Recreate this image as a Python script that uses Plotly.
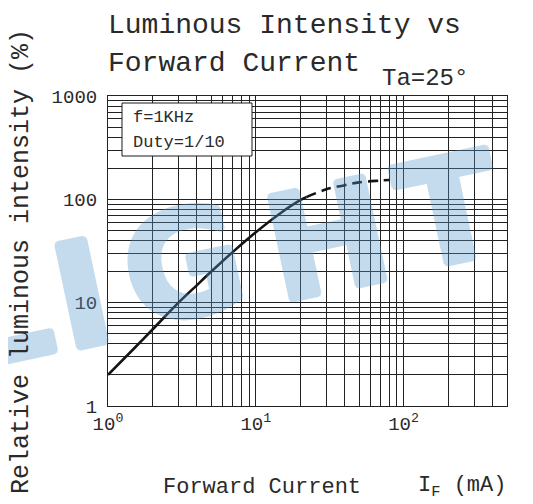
import plotly.graph_objects as go

# ---- data ----
current_solid = [1, 1.5, 2, 3, 4, 5, 7, 10, 15, 20, 22]
intensity_solid = [2, 3.6, 5.5, 10, 14.8, 20, 31, 48, 75, 98, 105]
current_dashed = [22, 30, 40, 50, 70, 80]
intensity_dashed = [105, 125, 137, 146, 152, 154]

x_tickvals = [1, 2, 3, 4, 5, 6, 7, 8, 9, 10, 20, 30, 40, 50, 60, 70, 80, 90, 100, 200, 300, 400]
x_ticktext = ["10<sup>0</sup>", "", "", "", "", "", "", "", "", "10<sup>1</sup>",
              "", "", "", "", "", "", "", "", "10<sup>2</sup>", "", "", ""]
y_tickvals = [1, 2, 3, 4, 5, 6, 7, 8, 9, 10, 20, 30, 40, 50, 60, 70, 80, 90,
              100, 200, 300, 400, 500, 600, 700, 800, 900, 1000]
y_ticktext = ["1", "", "", "", "", "", "", "", "", "10", "", "", "", "", "", "", "", "",
              "100", "", "", "", "", "", "", "", "", "1000"]

# page is 533x504; the html body adds an 8px offset
OFF = 8
W, H = 533 - OFF, 504 - OFF
L, R, T, B = 108 - OFF, 26, 96 - OFF, 98
PW, PH = W - L - R, H - T - B


def px(x):  # page pixel -> paper
    return (x - OFF - L) / PW


def py(y):
    return (H - B - (y - OFF)) / PH


FONT = "Liberation Mono, DejaVu Sans Mono, monospace"
INK = "#2a2a2a"
WM = "rgb(89,155,206)"

fig = go.Figure()
fig.add_trace(go.Scatter(x=current_solid, y=intensity_solid, mode="lines",
                         line=dict(color="#141414", width=2.6, shape="spline", smoothing=1),
                         showlegend=False))
fig.add_trace(go.Scatter(x=current_dashed, y=intensity_dashed, mode="lines",
                         line=dict(color="#141414", width=2.6, shape="spline", smoothing=1,
                                   dash="10px,6px"),
                         showlegend=False))

annotations = []
# watermark letters
wm = [("L", 3, 310), ("I", 82, 295), ("G", 183, 265), ("H", 327, 240), ("T", 449, 211)]
shadow = ", ".join(f"{dx}px {dy}px 0 {WM}" for dx, dy in
                   [(3, 0), (-3, 0), (0, 3), (0, -3), (2, 2), (-2, -2), (2, -2), (-2, 2)])
for ch, cx, cy in wm:
    annotations.append(dict(text=ch, x=px(cx), y=py(cy),
                            xanchor="center", yanchor="middle",
                            textangle=-12, opacity=0.35,
                            font=dict(family="DejaVu Sans", size=145, weight=700,
                                      color=WM, shadow=shadow)))

annotations += [
    dict(text="Luminous Intensity vs", x=px(106), y=py(25), xanchor="left", yanchor="middle",
         font=dict(family=FONT, size=28, color=INK)),
    dict(text="Forward Current", x=px(106), y=py(64), xanchor="left", yanchor="middle",
         font=dict(family=FONT, size=28, color=INK)),
    dict(text="Ta=25°", x=px(425), y=py(79), xanchor="center", yanchor="middle",
         font=dict(family=FONT, size=24, color=INK)),
    dict(text="Relative luminous intensity (%)", x=px(22), y=py(262), xanchor="center",
         yanchor="middle", textangle=-90, font=dict(family=FONT, size=25, color=INK)),
    dict(text="Forward Current", x=px(262), y=py(487), xanchor="center", yanchor="middle",
         font=dict(family=FONT, size=22, color=INK)),
    dict(text="I<sub>F</sub> (mA)", x=px(462), y=py(487), xanchor="center", yanchor="middle",
         font=dict(family=FONT, size=22, color=INK)),
    dict(text="f=1KHz", x=px(131), y=py(117), xanchor="left", yanchor="middle",
         font=dict(family=FONT, size=17, color=INK)),
    dict(text="Duty=1/10", x=px(131), y=py(142), xanchor="left", yanchor="middle",
         font=dict(family=FONT, size=17, color=INK)),
]
for a in annotations:
    a.setdefault("xref", "paper")
    a.setdefault("yref", "paper")
    a.setdefault("showarrow", False)

fig.update_layout(
    width=W, height=H,
    margin=dict(l=L, r=R, t=T, b=B, pad=0),
    paper_bgcolor="white", plot_bgcolor="white",
    annotations=annotations,
    shapes=[dict(type="rect", xref="paper", yref="paper",
                 x0=px(122), x1=px(252), y0=py(156), y1=py(103),
                 line=dict(color="#1a1a1a", width=1), fillcolor="white", layer="above")],
    xaxis=dict(type="log", range=[0, 2.7], tickvals=x_tickvals, ticktext=x_ticktext,
               showgrid=True, gridcolor="#222", gridwidth=1, zeroline=False,
               showline=True, linecolor="#222", linewidth=1, mirror=True, ticks="",
               ticklabelstandoff=0,
               tickfont=dict(family=FONT, size=19, color=INK)),
    yaxis=dict(type="log", range=[0, 3], tickvals=y_tickvals, ticktext=y_ticktext,
               showgrid=True, gridcolor="#222", gridwidth=1, zeroline=False,
               showline=True, linecolor="#222", linewidth=1, mirror=True, ticks="",
               ticklabelstandoff=6,
               tickfont=dict(family=FONT, size=19, color=INK)),
)

fig.write_html("out.html")
